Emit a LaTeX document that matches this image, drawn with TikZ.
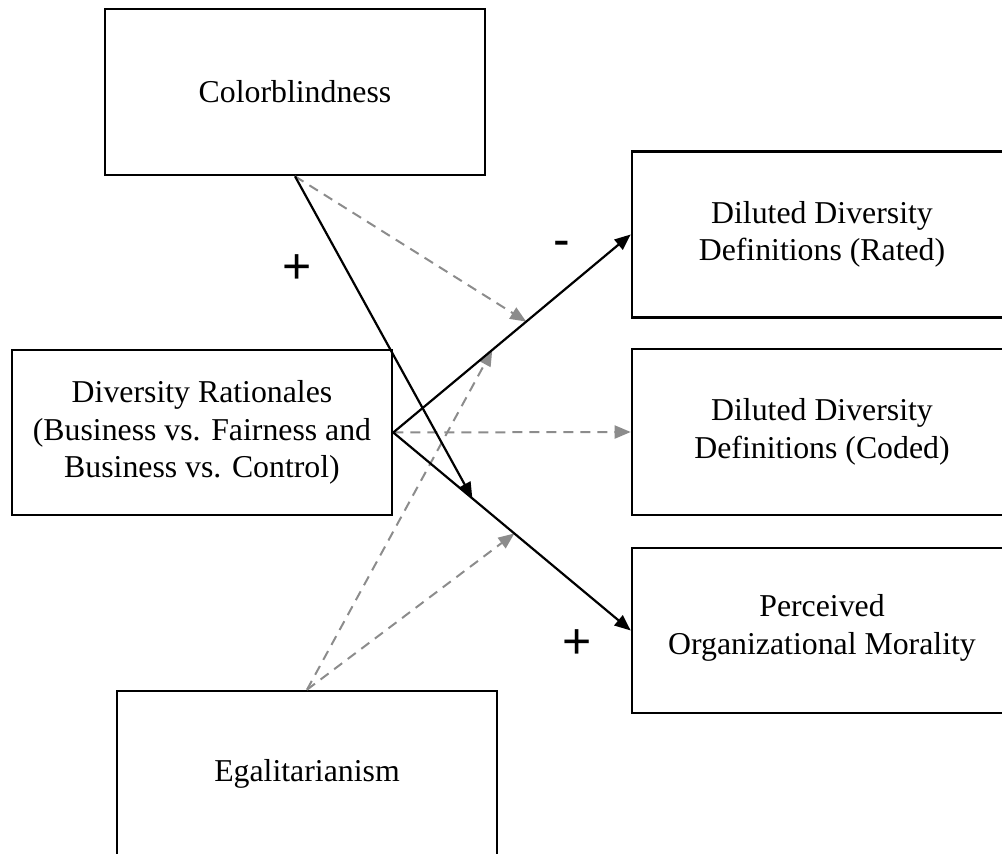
\documentclass[tikz,border=0pt]{standalone}
\usepackage{fontspec}
\setmainfont{Liberation Serif}
\newfontfamily\signfont{Liberation Sans}
\usetikzlibrary{arrows.meta,calc}
\definecolor{modgray}{RGB}{140,140,140}

\begin{document}
\begin{tikzpicture}[x=0.5pt,y=-0.5pt,
  box/.style={draw=black,line width=1.3pt,fill=white,minimum width=190pt,
    minimum height=83pt,inner sep=0pt,align=center,
    font=\fontsize{15.9}{18.8}\selectfont},
  effect/.style={line width=1.1pt,-{Triangle[length=8pt,width=6.5pt]}},
  moderation/.style={draw=modgray,line width=1pt,dash pattern=on 5pt off 3.5pt,
    -{Triangle[length=8pt,width=6.5pt]}},
  sign/.style={font=\signfont\fontsize{25}{25}\selectfont,inner sep=0pt,anchor=base}]

\useasboundingbox (0,0) rectangle (1002,854);

% constructs
\node[box] (cb) at (295,92) {Colorblindness};
\node[box,minimum height=82.5pt] (dr) at (202,432.5)
  {Diversity Rationales\\(Business vs. Fairness and\\Business vs. Control)};
\node[box] (eg) at (307,774) {Egalitarianism};
\node[box] (rated) at (822,234.5) {Diluted Diversity\\Definitions (Rated)};
\node[box] (coded) at (822,432) {Diluted Diversity\\Definitions (Coded)};
\node[box,minimum height=82.5pt,text depth=6pt] (pom) at (822,630.5)
  {Perceived\\Organizational Morality};

% points where moderators meet the main paths
\coordinate (cbEnd) at ($(dr.east)!0.333!(pom.west)$);
\coordinate (cbMod) at ($(dr.east)!0.56!(rated.west)$);
\coordinate (egModA) at ($(dr.east)!0.417!(rated.west)$);
\coordinate (egModB) at ($(dr.east)!0.51!(pom.west)$);

% moderation paths
\draw[moderation] (cb.south) -- (cbMod);
\draw[moderation] (dr.east) -- (coded.west);
\draw[moderation] (eg.north) -- (egModA);
\draw[moderation] (eg.north) -- (egModB);

% main effects
\draw[effect] (cb.south) -- (cbEnd);
\draw[effect] (dr.east) -- (rated.west);
\draw[effect] (dr.east) -- (pom.west);

% signs
\node[sign] (plusA) at (297,284) {+};
\node[sign] (minus) at (562,257) {-};
\node[sign] (plusB) at (577,659) {+};
\end{tikzpicture}
\end{document}
